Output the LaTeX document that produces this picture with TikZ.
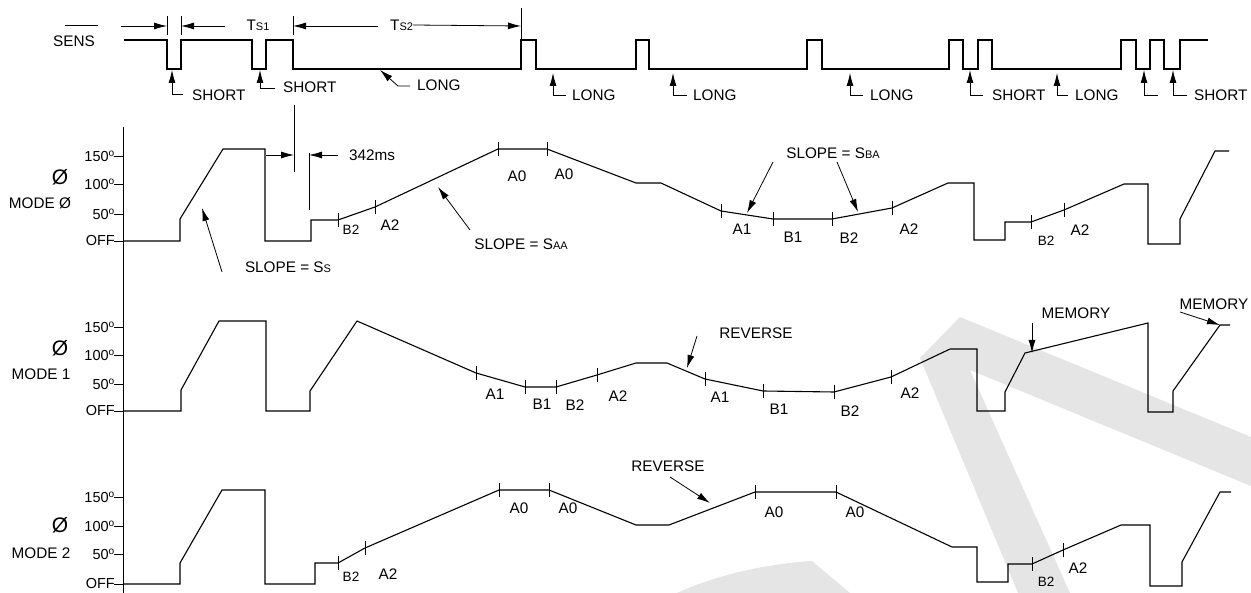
\documentclass[tikz,border=0pt]{standalone}
\usepackage{fontspec}
\setmainfont{Liberation Sans}
\usetikzlibrary{arrows.meta}

\newcommand{\smcap}[1]{{\fontsize{11}{12}\selectfont #1}}
\newcommand{\dgsup}{\textsuperscript{o}}

\tikzset{
  lbl/.style={font=\fontsize{15.3}{17}\selectfont,inner sep=0pt},
  lblsm/.style={font=\fontsize{13.5}{15}\selectfont,inner sep=0pt},
  axl/.style={font=\fontsize{14.5}{16}\selectfont,inner sep=0pt,anchor=east},
  bigsym/.style={font=\fontsize{21}{24}\selectfont,inner sep=0pt},
  wave/.style={line width=1.1pt},
  lead/.style={line width=0.8pt},
  wmark/.style={fill=black!10,draw=none},
}

\begin{document}
\begin{tikzpicture}[x=1pt,y=-1pt,>={Latex[length=13pt,width=7pt]}]
  \useasboundingbox (0,0) rectangle (1251,593);
  \fill[wmark] (920,358) -- (960,317) -- (1251,437) -- (1251,486) -- (970,370) -- (1070,593) -- (1018,593) -- cycle;
  \fill[wmark] (677,593) .. controls (720,573) and (775,563) .. (812,561) -- (850,593) -- cycle;

  \node[lbl] (sens) at (74,41) {SENS};
  \draw[lead] (65,25) -- (98,25);
  \draw[wave] (124,40) -- (167,40) -- (167,69) -- (181,69) -- (181,40) -- (252,40) -- (252,69) -- (266,69) -- (266,40) -- (293,40) -- (293,69) -- (521,69) -- (521,40) -- (536,40) -- (536,69) -- (636,69) -- (636,40) -- (649,40) -- (649,69) -- (807,69) -- (807,40) -- (822,40) -- (822,69) -- (949,69) -- (949,40) -- (963,40) -- (963,69) -- (978,69) -- (978,40) -- (992,40) -- (992,69) -- (1121,69) -- (1121,40) -- (1136,40) -- (1136,69) -- (1150,69) -- (1150,40) -- (1164,40) -- (1164,69) -- (1180,69) -- (1180,40) -- (1208,40);

  \draw[lead] (167,16) -- (167,35);
  \draw[lead] (181,16) -- (181,35);
  \draw[lead] (293,16) -- (293,35);
  \draw[lead] (521,8) -- (521,40);
  \draw[lead,->] (121,26) -- (167,26);
  \draw[lead,->] (225,26) -- (181,26);
  \node[lbl] (ts1) at (258,25) {T\smcap{S1}};
  \draw[lead,->] (378,26) -- (293,26);
  \node[lbl,anchor=west] (ts2) at (390,25) {T\smcap{S2}};
  \draw[lead,->] (ts2.east) -- (521,26);

  \draw[lead,->] (183,94) -- (172,94) -- (172,70);
  \node[lbl,anchor=west] (short1) at (192,95) {SHORT};
  \draw[lead,->] (275,88) -- (260,88) -- (260,70);
  \node[lbl,anchor=west] (short2) at (283,87) {SHORT};
  \draw[lead,->] (410,86) -- (398,86) -- (380,70);
  \node[lbl,anchor=west] (long1) at (417,85) {LONG};
  \draw[lead,->] (566,95) -- (553,95) -- (553,73);
  \node[lbl,anchor=west] (long2) at (572,95) {LONG};
  \draw[lead,->] (687,95) -- (673,95) -- (673,73);
  \node[lbl,anchor=west] (long3) at (693,95) {LONG};
  \draw[lead,->] (863,95) -- (850,95) -- (850,73);
  \node[lbl,anchor=west] (long4) at (870,95) {LONG};
  \draw[lead,->] (983,95) -- (970,95) -- (970,70);
  \node[lbl,anchor=west] (short3) at (992,95) {SHORT};
  \draw[lead,->] (1068,95) -- (1057,95) -- (1057,73);
  \node[lbl,anchor=west] (long5) at (1075,95) {LONG};
  \draw[lead,->] (1158,95) -- (1144,95) -- (1144,70);
  \draw[lead,->] (1187,95) -- (1173,95) -- (1173,70);
  \node[lbl,anchor=west] (short4) at (1194,95) {SHORT};

  \draw[lead] (294,105) -- (294,172);
  \draw[lead] (309,153) -- (309,210);
  \draw[lead,->] (266,155) -- (294,155);
  \draw[lead,->] (338,155) -- (309,155);
  \node[lbl,anchor=west] (ms) at (349,155) {342ms};

  \draw[lead] (123,127) -- (123,593);

  % mode 0
  \node[bigsym] (phi0) at (60,177) {Ø};
  \node[lbl] (mode0) at (40,203) {MODE Ø};
  \foreach \yy/\vv in {156/150\dgsup,184/100\dgsup,214/50\dgsup,241/OFF}{
    \draw[lead] (114,\yy) -- (123,\yy);
    \node[axl] at (115,\yy) {\vv};
  }
  \draw[wave] (123,241) -- (180,241) -- (180,219) -- (223,149) -- (265,149) -- (265,241) -- (311,241) -- (311,220) -- (338,220) -- (375,207) -- (498,149) -- (547,149) -- (636,183) -- (661,183) -- (721,211) -- (773,219) -- (832,219) -- (892,208) -- (948,183) -- (974,183) -- (974,240) -- (1005,240) -- (1005,222) -- (1031,222) -- (1064,210) -- (1124,184) -- (1148,184) -- (1148,244) -- (1180,244) -- (1180,219) -- (1215,151) -- (1229,151);
  \foreach \p in {(338,220),(375,207),(498,149),(547,149),(721,211),(773,219),(832,219),(892,208),(1031,222),(1064,210)}
    \draw[lead] \p +(0,-7) -- +(0,7);
  \node[lblsm] (m0b2a) at (351,230) {B2};
  \foreach \xx/\yy/\tt in {390/225/A2,517/176/A0,564/174/A0,742/229/A1,793/237/B1,849/238/B2,909/229/A2,1080/230/A2}
    \node[lbl] (m0-\xx) at (\xx,\yy) {\tt};
  \node[lblsm] (m0b2b) at (1046,241) {B2};
  \node[lbl] (slopes) at (288,267) {SLOPE = S\smcap{S}};
  \draw[lead,->] (222,272) -- (202,208);
  \node[lbl] (slopeaa) at (521,244) {SLOPE = S\smcap{AA}};
  \draw[lead,->] (470,230) -- (438,187);
  \node[lbl] (slopeba) at (833,153) {SLOPE = S\smcap{BA}};
  \draw[lead,->] (773,162) -- (747,213);
  \draw[lead,->] (837,162) -- (858,212);

  % mode 1
  \node[bigsym] (phi1) at (60,348) {Ø};
  \node[lbl] (mode1) at (41,374) {MODE 1};
  \foreach \yy/\vv in {327/150\dgsup,355/100\dgsup,384/50\dgsup,411/OFF}{
    \draw[lead] (114,\yy) -- (123,\yy);
    \node[axl] at (115,\yy) {\vv};
  }
  \draw[wave] (123,411) -- (181,411) -- (181,390) -- (219,321) -- (266,321) -- (266,411) -- (310,411) -- (310,391) -- (357,321) -- (476,373) -- (525,387) -- (556,387) -- (597,375) -- (636,363) -- (667,363) -- (705,379) -- (763,391) -- (834,392) -- (891,377) -- (950,349) -- (977,349) -- (977,411) -- (1005,411) -- (1005,392) -- (1025,353) -- (1148,323) -- (1148,412) -- (1173,412) -- (1173,391) -- (1220,325) -- (1230,325);
  \foreach \p in {(476,373),(525,387),(556,387),(597,375),(705,379),(763,391),(834,392),(891,377)}
    \draw[lead] \p +(0,-7) -- +(0,7);
  \foreach \xx/\yy/\tt in {495/394/A1,542/404/B1,575/405/B2,618/396/A2,720/397/A1,779/409/B1,850/411/B2,910/393/A2}
    \node[lbl] (m1-\xx) at (\xx,\yy) {\tt};
  \node[lbl] (rev1) at (756,333) {REVERSE};
  \draw[lead,->] (697,336) -- (687,368);
  \node[lbl] (mem1) at (1076,313) {MEMORY};
  \draw[lead,->] (1032,323) -- (1032,353);
  \node[lbl] (mem2) at (1214,304) {MEMORY};
  \draw[lead,->] (1180,312) -- (1220,325);

  % mode 2
  \node[bigsym] (phi2) at (60,525) {Ø};
  \node[lbl] (mode2) at (41,553) {MODE 2};
  \foreach \yy/\vv in {497/150\dgsup,526/100\dgsup,554/50\dgsup,584/OFF}{
    \draw[lead] (114,\yy) -- (123,\yy);
    \node[axl] at (115,\yy) {\vv};
  }
  \draw[wave] (123,584) -- (180,584) -- (180,563) -- (222,490) -- (265,490) -- (265,584) -- (315,584) -- (315,563) -- (338,563) -- (365,548) -- (499,490) -- (549,490) -- (636,525) -- (669,525) -- (755,492) -- (836,492) -- (952,547) -- (977,547) -- (977,582) -- (1008,582) -- (1008,564) -- (1032,564) -- (1063,550) -- (1121,525) -- (1150,525) -- (1150,586) -- (1182,586) -- (1182,562) -- (1220,492) -- (1231,492);
  \foreach \p in {(338,563),(365,548),(499,490),(549,490),(755,492),(836,492),(1032,564),(1063,550)}
    \draw[lead] \p +(0,-7) -- +(0,7);
  \foreach \xx/\yy/\tt in {388/574/A2,519/508/A0,568/508/A0,774/512/A0,855/512/A0,1078/568/A2}
    \node[lbl] (m2-\xx) at (\xx,\yy) {\tt};
  \node[lblsm] (m2b2a) at (351,577) {B2};
  \node[lblsm] (m2b2b) at (1046,582) {B2};
  \node[lbl] (rev2) at (668,466) {REVERSE};
  \draw[lead,->] (670,477) -- (710,503);
\end{tikzpicture}
\end{document}
